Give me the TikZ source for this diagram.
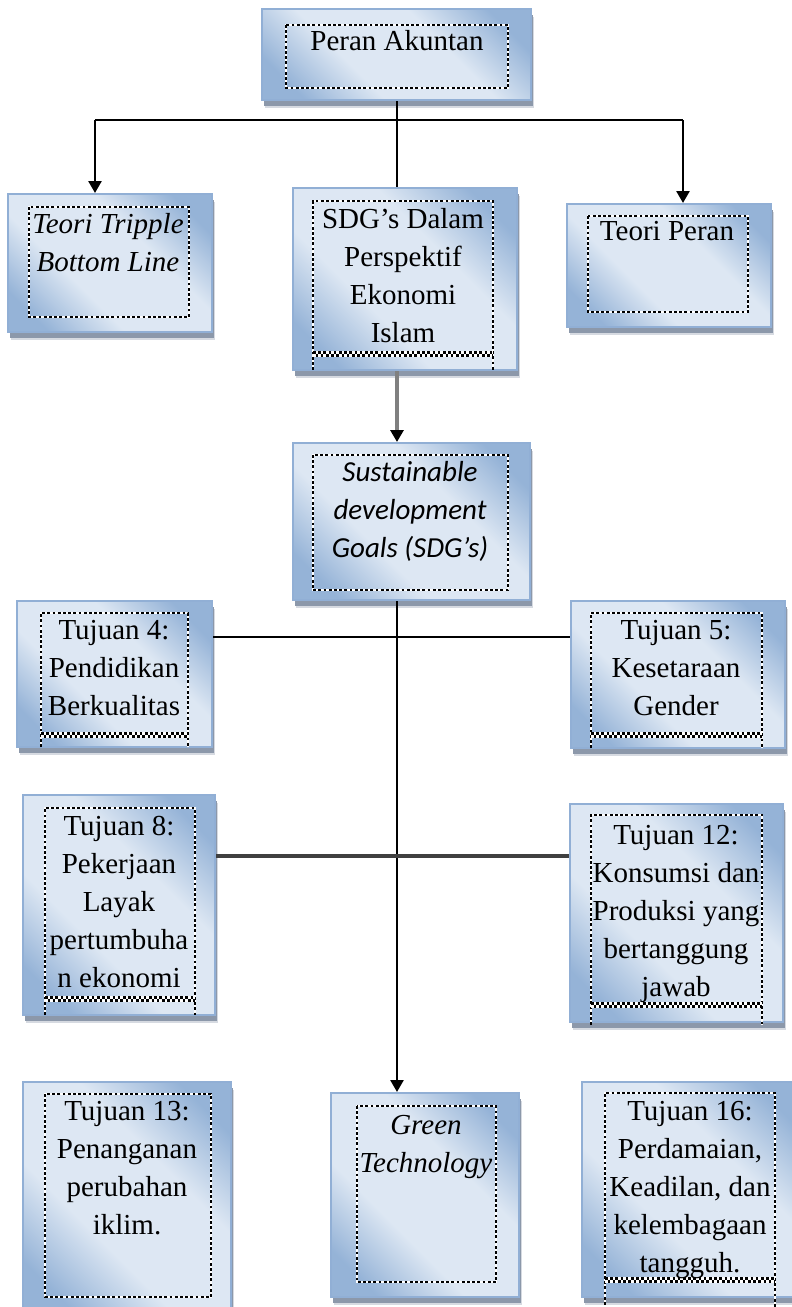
\documentclass[tikz,border=0pt]{standalone}
\usepackage{fontspec}
\setmainfont{Liberation Serif}
\newfontfamily\carlito{Carlito}
\usepackage{xcolor}
\usepackage{tikz}
\usetikzlibrary{arrows.meta,fit,shadows}
\definecolor{birutua}{RGB}{149,179,215}
\definecolor{birumuda}{RGB}{221,231,243}
\definecolor{garisbiru}{RGB}{145,175,213}
\definecolor{bayang}{RGB}{140,152,170}
\definecolor{bayangmuda}{RGB}{214,218,225}
\pgfdeclareverticalshading{kotakbiru}{100bp}{color(0bp)=(birutua); color(23bp)=(birutua); color(39bp)=(birumuda); color(61bp)=(birumuda); color(77bp)=(birutua); color(100bp)=(birutua)}
\tikzset{kotak biru/.style={inner sep=0pt,draw=garisbiru,line width=1pt,shade,shading=kotakbiru,shading angle=-45,
    drop shadow={shadow xshift=1.5pt,shadow yshift=-4pt,fill=bayangmuda,opacity=1},
    drop shadow={shadow xshift=1pt,shadow yshift=-3pt,fill=bayang,opacity=1}},
  teks isi/.style={anchor=north,align=center,inner sep=0pt,font=\fontsize{14.5}{19}\selectfont},
  teks miring/.style={teks isi,font=\fontsize{14.5}{19}\selectfont\itshape},
  teks calibri/.style={teks isi,font=\fontsize{14.5}{19}\selectfont\carlito\itshape},
  garis/.style={line width=1.3pt},
  garis abu/.style={line width=2pt,draw=black!50},
  garis gelap/.style={line width=1.6pt,draw=black!75},
  panah/.style={-{Triangle[width=6.5pt,length=6pt,color=black]}},
  titik/.style={draw=white,line width=1.4pt,postaction={draw=black,line width=1.4pt,dash pattern=on 1.4pt off 1.2pt}},
  catur/.style={draw=white,line width=2.6pt,
    postaction={draw=black,line width=1.3pt,dash pattern=on 1.3pt off 1.3pt,transform canvas={yshift=0.65pt}},
    postaction={draw=black,line width=1.3pt,dash pattern=on 1.3pt off 1.3pt,dash phase=1.3pt,transform canvas={yshift=-0.65pt}}}}

\begin{document}
\begin{tikzpicture}[x=0.5pt,y=-0.5pt]
	\useasboundingbox (0,0) rectangle (792,1307);
	\clip (0,0) rectangle (792,1307);

	% kotak
	\node[kotak biru,fit={(262,9) (531,100)}] (P) {};
	\node[kotak biru,fit={(8,194) (212,332)}] (T) {};
	\node[kotak biru,fit={(293,188) (517,370)}] (S) {};
	\node[kotak biru,fit={(567,204) (771,327)}] (R) {};
	\node[kotak biru,fit={(293,443) (530,600)}] (G) {};
	\node[kotak biru,fit={(17,601) (212,747)}] (T4) {};
	\node[kotak biru,fit={(571,601) (785,748)}] (T5) {};
	\node[kotak biru,fit={(23,795) (215,1015)}] (T8) {};
	\node[kotak biru,fit={(570,804) (783,1022)}] (T12) {};
	\node[kotak biru,fit={(23,1082) (231,1314)}] (T13) {};
	\node[kotak biru,fit={(331,1093) (519,1297)}] (GT) {};
	\node[kotak biru,fit={(582,1082) (805,1297)}] (T16) {};

	% garis titik di dalam
	\draw[titik] (286,25) rectangle (508,88);
	\draw[titik] (29,207) rectangle (189,317);
	\draw[titik] (313,370) -- (313,201) -- (493,201) -- (493,370);
	\draw[catur] (313,354) -- (493,354);
	\draw[titik] (588,216) rectangle (748,312);
	\draw[titik] (313,455) rectangle (508,590);
	\draw[titik] (41,747) -- (41,613) -- (188,613) -- (188,747);
	\draw[catur] (41,735) -- (188,735);
	\draw[titik] (591,748) -- (591,613) -- (762,613) -- (762,748);
	\draw[catur] (591,735) -- (762,735);
	\draw[titik] (45,1015) -- (45,808) -- (195,808) -- (195,1015);
	\draw[catur] (45,999) -- (195,999);
	\draw[titik] (591,1025) -- (591,815) -- (762,815) -- (762,1025);
	\draw[catur] (591,1005) -- (762,1005);
	\draw[titik] (45,1094) rectangle (211,1297);
	\draw[titik] (357,1106) rectangle (496,1282);
	\draw[titik] (605,1310) -- (605,1093) -- (775,1093) -- (775,1310);
	\draw[catur] (605,1280) -- (775,1280);

	% teks
	\node[teks isi] (tP) at (397,30) {Peran Akuntan};
	\node[teks miring] (tT) at (108,213) {Teori Tripple\\Bottom Line};
	\node[teks isi] (tS) at (403,208) {SDG’s Dalam\\Perspektif\\Ekonomi\\Islam};
	\node[teks isi] (tR) at (667,221) {Teori Peran};
	\node[teks calibri] (tG) at (410,461) {Sustainable\\development\\Goals (SDG’s)};
	\node[teks isi] (tT4) at (114,620) {Tujuan 4:\\Pendidikan\\Berkualitas};
	\node[teks isi] (tT5) at (676,620) {Tujuan 5:\\Kesetaraan\\Gender};
	\node[teks isi] (tT8) at (119,816) {Tujuan 8:\\Pekerjaan\\Layak\\pertumbuha\\n ekonomi};
	\node[teks isi] (tT12) at (676,825) {Tujuan 12:\\Konsumsi dan\\Produksi yang\\bertanggung\\jawab};
	\node[teks isi] (tT13) at (127,1101) {Tujuan 13:\\Penanganan\\perubahan\\iklim.};
	\node[teks miring] (tGT) at (426,1115) {Green\\Technology};
	\node[teks isi] (tT16) at (690,1101) {Tujuan 16:\\Perdamaian,\\Keadilan, dan\\kelembagaan\\tangguh.};

	% penghubung
	\coordinate (J) at (397,120);
	\coordinate (JL) at (95,120);
	\coordinate (JR) at (683,120);
	\coordinate (H1) at (397,637);
	\coordinate (H2) at (397,856);
	\draw[garis] (J |- P.south) -- (J);
	\draw[garis] (JL) -- (JR);
	\draw[garis,panah] (JL) -- (JL |- T.north);
	\draw[garis,panah] (JR) -- (JR |- R.north);
	\draw[garis] (J) -- (J |- S.north);
	\draw[garis abu,panah] (J |- S.south) -- (J |- G.north);
	\draw[garis,panah] (J |- G.south) -- (J |- GT.north);
	\draw[garis] (H1 -| T4.east) -- (H1 -| T5.west);
	\draw[garis gelap] (H2 -| T8.east) -- (H2 -| T12.west);
\end{tikzpicture}
\end{document}
